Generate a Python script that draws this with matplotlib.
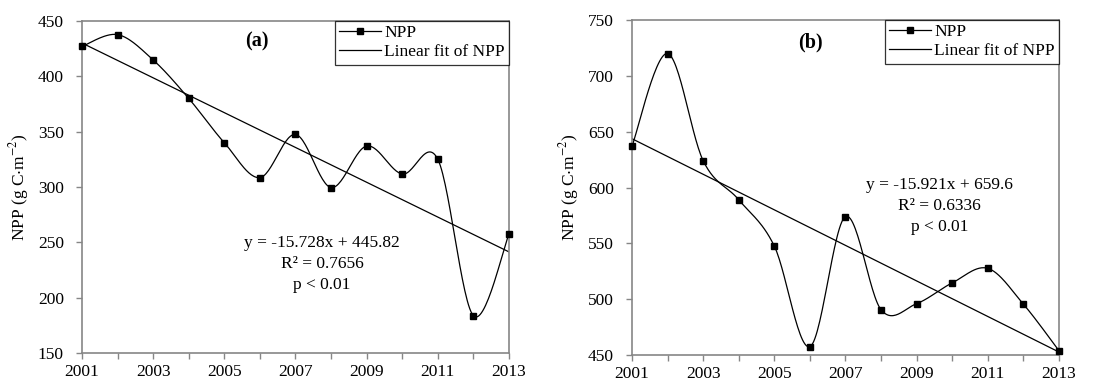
import numpy as np
import matplotlib.pyplot as plt
from matplotlib.lines import Line2D

plt.rcParams['font.family'] = ['Liberation Serif', 'DejaVu Serif']
plt.rcParams['mathtext.fontset'] = 'stix'

years = np.arange(2001, 2014)
npp_a = [427, 437.7, 414.8, 380, 340, 308.5, 347.5, 299.5, 337, 311.7, 325, 183.7, 257.5]
npp_b = [637, 720, 624, 589, 547.5, 457.5, 574, 490.5, 496, 514.6, 527.6, 495.5, 453.8]
fit_a = (-15.728, 445.82)
fit_b = (-15.921, 659.6)
ylims_a = (150, 450)
ylims_b = (450, 750)
eq_a = ["y = -15.728x + 445.82", "R² = 0.7656", "p < 0.01"]
eq_b = ["y = -15.921x + 659.6", "R² = 0.6336", "p < 0.01"]

FS = 12.5
GRAY = '#868686'


def smooth(x, y, n=30):
    # Excel-like smoothed line: Catmull-Rom through the points
    x = np.asarray(x, float)
    y = np.asarray(y, float)
    px = np.concatenate([[x[0]], x, [x[-1]]])
    py = np.concatenate([[y[0]], y, [y[-1]]])
    xs, ys = [], []
    t = np.linspace(0, 1, n)
    for i in range(1, len(px) - 2):
        p0, p1, p2, p3 = [np.array([px[j], py[j]]) for j in (i - 1, i, i + 1, i + 2)]
        c1 = p1 + (p2 - p0) / 6
        c2 = p2 - (p3 - p1) / 6
        b = ((1 - t) ** 3)[:, None] * p1 + (3 * (1 - t) ** 2 * t)[:, None] * c1 \
            + (3 * (1 - t) * t ** 2)[:, None] * c2 + (t ** 3)[:, None] * p2
        xs.extend(b[:, 0])
        ys.extend(b[:, 1])
    return np.array(xs), np.array(ys)


def panel(ax, vals, fit, ylims, label, eq, eq_pos, lab_pos):
    ax.set_xlim(years[0], years[-1])
    ax.set_ylim(*ylims)
    sx, sy = smooth(years, vals)
    ax.plot(sx, sy, color='black', lw=0.9, clip_on=False)
    ax.plot(years, vals, ls='none', marker='s', ms=5, color='black', clip_on=False, zorder=5)
    k = np.arange(1, len(years) + 1)
    ax.plot(years, fit[0] * k + fit[1], color='black', lw=0.9)

    ax.set_xticks(years)
    ax.set_xticklabels([str(y) if (y - 2001) % 2 == 0 else '' for y in years])
    ax.set_yticks(np.arange(ylims[0], ylims[1] + 1, 50))
    ax.tick_params(direction='out', length=4, width=1, color=GRAY, labelsize=FS)
    ax.tick_params(axis='x', pad=4)
    ax.tick_params(axis='y', pad=9)
    for s in ax.spines.values():
        s.set_color(GRAY)
        s.set_linewidth(1.2)
    ax.set_ylabel(r'NPP (g C$\cdot$m$^{-2}$)', fontsize=FS, labelpad=5)

    ax.text(lab_pos[0], lab_pos[1], label, transform=ax.transAxes, ha='center',
            va='center', fontsize=FS + 2, fontweight='bold')
    for i, line in enumerate(eq):
        ax.text(eq_pos[0], eq_pos[1] - i * 0.063, line, transform=ax.transAxes,
                ha='center', va='center', fontsize=FS)

    h0 = Line2D([0, 0.5, 1], [0, 0, 0], color='black', lw=0.9, marker='s', ms=4, markevery=[1])
    h1 = Line2D([], [], color='black', lw=0.9)
    leg = ax.legend([h0, h1], ['NPP', 'Linear fit of NPP'], loc='upper right',
                    bbox_to_anchor=(1, 1), borderaxespad=0, fancybox=False,
                    frameon=True, edgecolor='black', fontsize=FS, handlelength=2.4,
                    handletextpad=0.2, borderpad=0.25, labelspacing=0.15)
    leg.get_frame().set_linewidth(0.9)


fig = plt.figure(figsize=(11.2, 3.88), dpi=100)
ax1 = fig.add_axes([82 / 1120, 1 - 353 / 388, 427 / 1120, 332 / 388])
ax2 = fig.add_axes([632 / 1120, 1 - 355 / 388, 427 / 1120, 335 / 388])

panel(ax1, npp_a, fit_a, ylims_a, '(a)', eq_a, (0.562, 0.331), (0.41, 0.937))
panel(ax2, npp_b, fit_b, ylims_b, '(b)', eq_b, (0.721, 0.507), (0.417, 0.934))

fig.savefig('out.png', dpi=100)
